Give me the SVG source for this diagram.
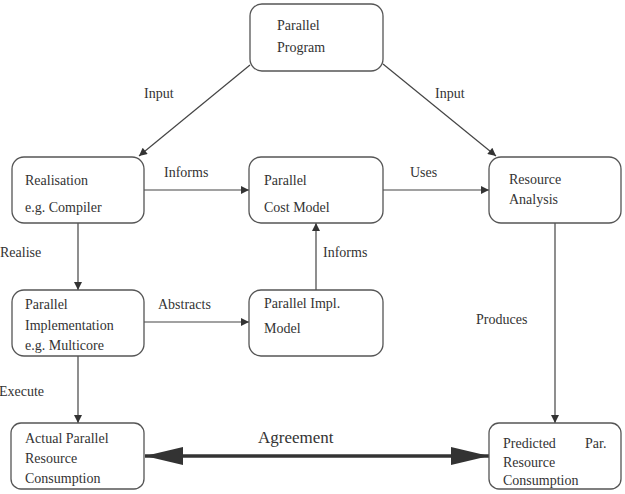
<svg xmlns="http://www.w3.org/2000/svg" width="625" height="494" viewBox="0 0 625 494">
<defs>
<marker id="ah" viewBox="0 0 10 10" refX="10" refY="5" markerWidth="10" markerHeight="8" markerUnits="userSpaceOnUse" orient="auto">
<path d="M0,0 L10,5 L0,10 z" fill="#333"/>
</marker>
<marker id="big" viewBox="0 0 38 18" refX="38" refY="9" markerWidth="38" markerHeight="18" markerUnits="userSpaceOnUse" orient="auto-start-reverse">
<path d="M0,0 L38,9 L0,18 z" fill="#333"/>
</marker>
</defs>
<rect width="625" height="494" fill="#fff"/>
<g id="connectors" stroke="#444" stroke-width="1.2" fill="none">
<line x1="250" y1="65" x2="139" y2="156" marker-end="url(#ah)"/>
<line x1="383" y1="64" x2="496" y2="156" marker-end="url(#ah)"/>
<line x1="144" y1="190" x2="249" y2="190" marker-end="url(#ah)"/>
<line x1="383" y1="190" x2="489" y2="190" marker-end="url(#ah)"/>
<line x1="78" y1="223" x2="78" y2="290" marker-end="url(#ah)"/>
<line x1="144" y1="322" x2="249" y2="322" marker-end="url(#ah)"/>
<line x1="316" y1="290" x2="316" y2="223" marker-end="url(#ah)"/>
<line x1="555" y1="223" x2="555" y2="423" marker-end="url(#ah)"/>
<line x1="78" y1="356" x2="78" y2="423" marker-end="url(#ah)"/>
<line x1="145" y1="456" x2="489" y2="456" stroke="#333" stroke-width="3.5" marker-start="url(#big)" marker-end="url(#big)"/>
</g>
<g id="labels" fill="#333" stroke="none">
<text style="font-family:'Liberation Serif',serif;font-size:14px" x="144" y="98">Input</text>
<text style="font-family:'Liberation Serif',serif;font-size:14px" x="435" y="98">Input</text>
<text style="font-family:'Liberation Serif',serif;font-size:14px" x="164" y="177">Informs</text>
<text style="font-family:'Liberation Serif',serif;font-size:14px" x="410" y="177">Uses</text>
<text style="font-family:'Liberation Serif',serif;font-size:14px" x="0" y="257">Realise</text>
<text style="font-family:'Liberation Serif',serif;font-size:14px" x="158" y="309">Abstracts</text>
<text style="font-family:'Liberation Serif',serif;font-size:14px" x="323" y="257">Informs</text>
<text style="font-family:'Liberation Serif',serif;font-size:14px" x="476" y="324">Produces</text>
<text style="font-family:'Liberation Serif',serif;font-size:14px" x="-1" y="396">Execute</text>
<text style="font-family:'Liberation Serif',serif;font-size:17px" x="258" y="443">Agreement</text>
</g>
<g id="program" fill="#333">
<rect x="250" y="4" width="133" height="67" rx="12" fill="#fff" stroke="#555" stroke-width="1.3"/>
<text style="font-family:'Liberation Serif',serif;font-size:14px" x="277" y="30">Parallel</text>
<text style="font-family:'Liberation Serif',serif;font-size:14px" x="277" y="52">Program</text>
</g>
<g id="realisation" fill="#333">
<rect x="12" y="157" width="132" height="66" rx="12" fill="#fff" stroke="#555" stroke-width="1.3"/>
<text style="font-family:'Liberation Serif',serif;font-size:14px" x="25" y="185">Realisation</text>
<text style="font-family:'Liberation Serif',serif;font-size:14px" x="25" y="212">e.g. Compiler</text>
</g>
<g id="costmodel" fill="#333">
<rect x="249" y="157" width="134" height="66" rx="12" fill="#fff" stroke="#555" stroke-width="1.3"/>
<text style="font-family:'Liberation Serif',serif;font-size:14px" x="264" y="185">Parallel</text>
<text style="font-family:'Liberation Serif',serif;font-size:14px" x="264" y="212">Cost Model</text>
</g>
<g id="analysis" fill="#333">
<rect x="489" y="157" width="132" height="66" rx="12" fill="#fff" stroke="#555" stroke-width="1.3"/>
<text style="font-family:'Liberation Serif',serif;font-size:14px" x="509" y="184">Resource</text>
<text style="font-family:'Liberation Serif',serif;font-size:14px" x="509" y="204">Analysis</text>
</g>
<g id="implementation" fill="#333">
<rect x="12" y="290" width="132" height="66" rx="12" fill="#fff" stroke="#555" stroke-width="1.3"/>
<text style="font-family:'Liberation Serif',serif;font-size:14px" x="25" y="309">Parallel</text>
<text style="font-family:'Liberation Serif',serif;font-size:14px" x="25" y="330">Implementation</text>
<text style="font-family:'Liberation Serif',serif;font-size:14px" x="25" y="350">e.g. Multicore</text>
</g>
<g id="implmodel" fill="#333">
<rect x="249" y="290" width="134" height="66" rx="12" fill="#fff" stroke="#555" stroke-width="1.3"/>
<text style="font-family:'Liberation Serif',serif;font-size:14px" x="264" y="308">Parallel Impl.</text>
<text style="font-family:'Liberation Serif',serif;font-size:14px" x="264" y="333">Model</text>
</g>
<g id="actual" fill="#333">
<rect x="11" y="423" width="133" height="66" rx="10" fill="#fff" stroke="#555" stroke-width="1.3"/>
<text style="font-family:'Liberation Serif',serif;font-size:14px" x="25" y="443">Actual Parallel</text>
<text style="font-family:'Liberation Serif',serif;font-size:14px" x="25" y="463">Resource</text>
<text style="font-family:'Liberation Serif',serif;font-size:14px" x="25" y="483">Consumption</text>
</g>
<g id="predicted" fill="#333">
<rect x="489" y="423" width="132" height="66" rx="10" fill="#fff" stroke="#555" stroke-width="1.3"/>
<text style="font-family:'Liberation Serif',serif;font-size:14px" x="503" y="448">Predicted</text>
<text style="font-family:'Liberation Serif',serif;font-size:14px" x="585" y="448">Par.</text>
<text style="font-family:'Liberation Serif',serif;font-size:14px" x="503" y="467">Resource</text>
<text style="font-family:'Liberation Serif',serif;font-size:14px" x="503" y="485">Consumption</text>
</g>
</svg>
